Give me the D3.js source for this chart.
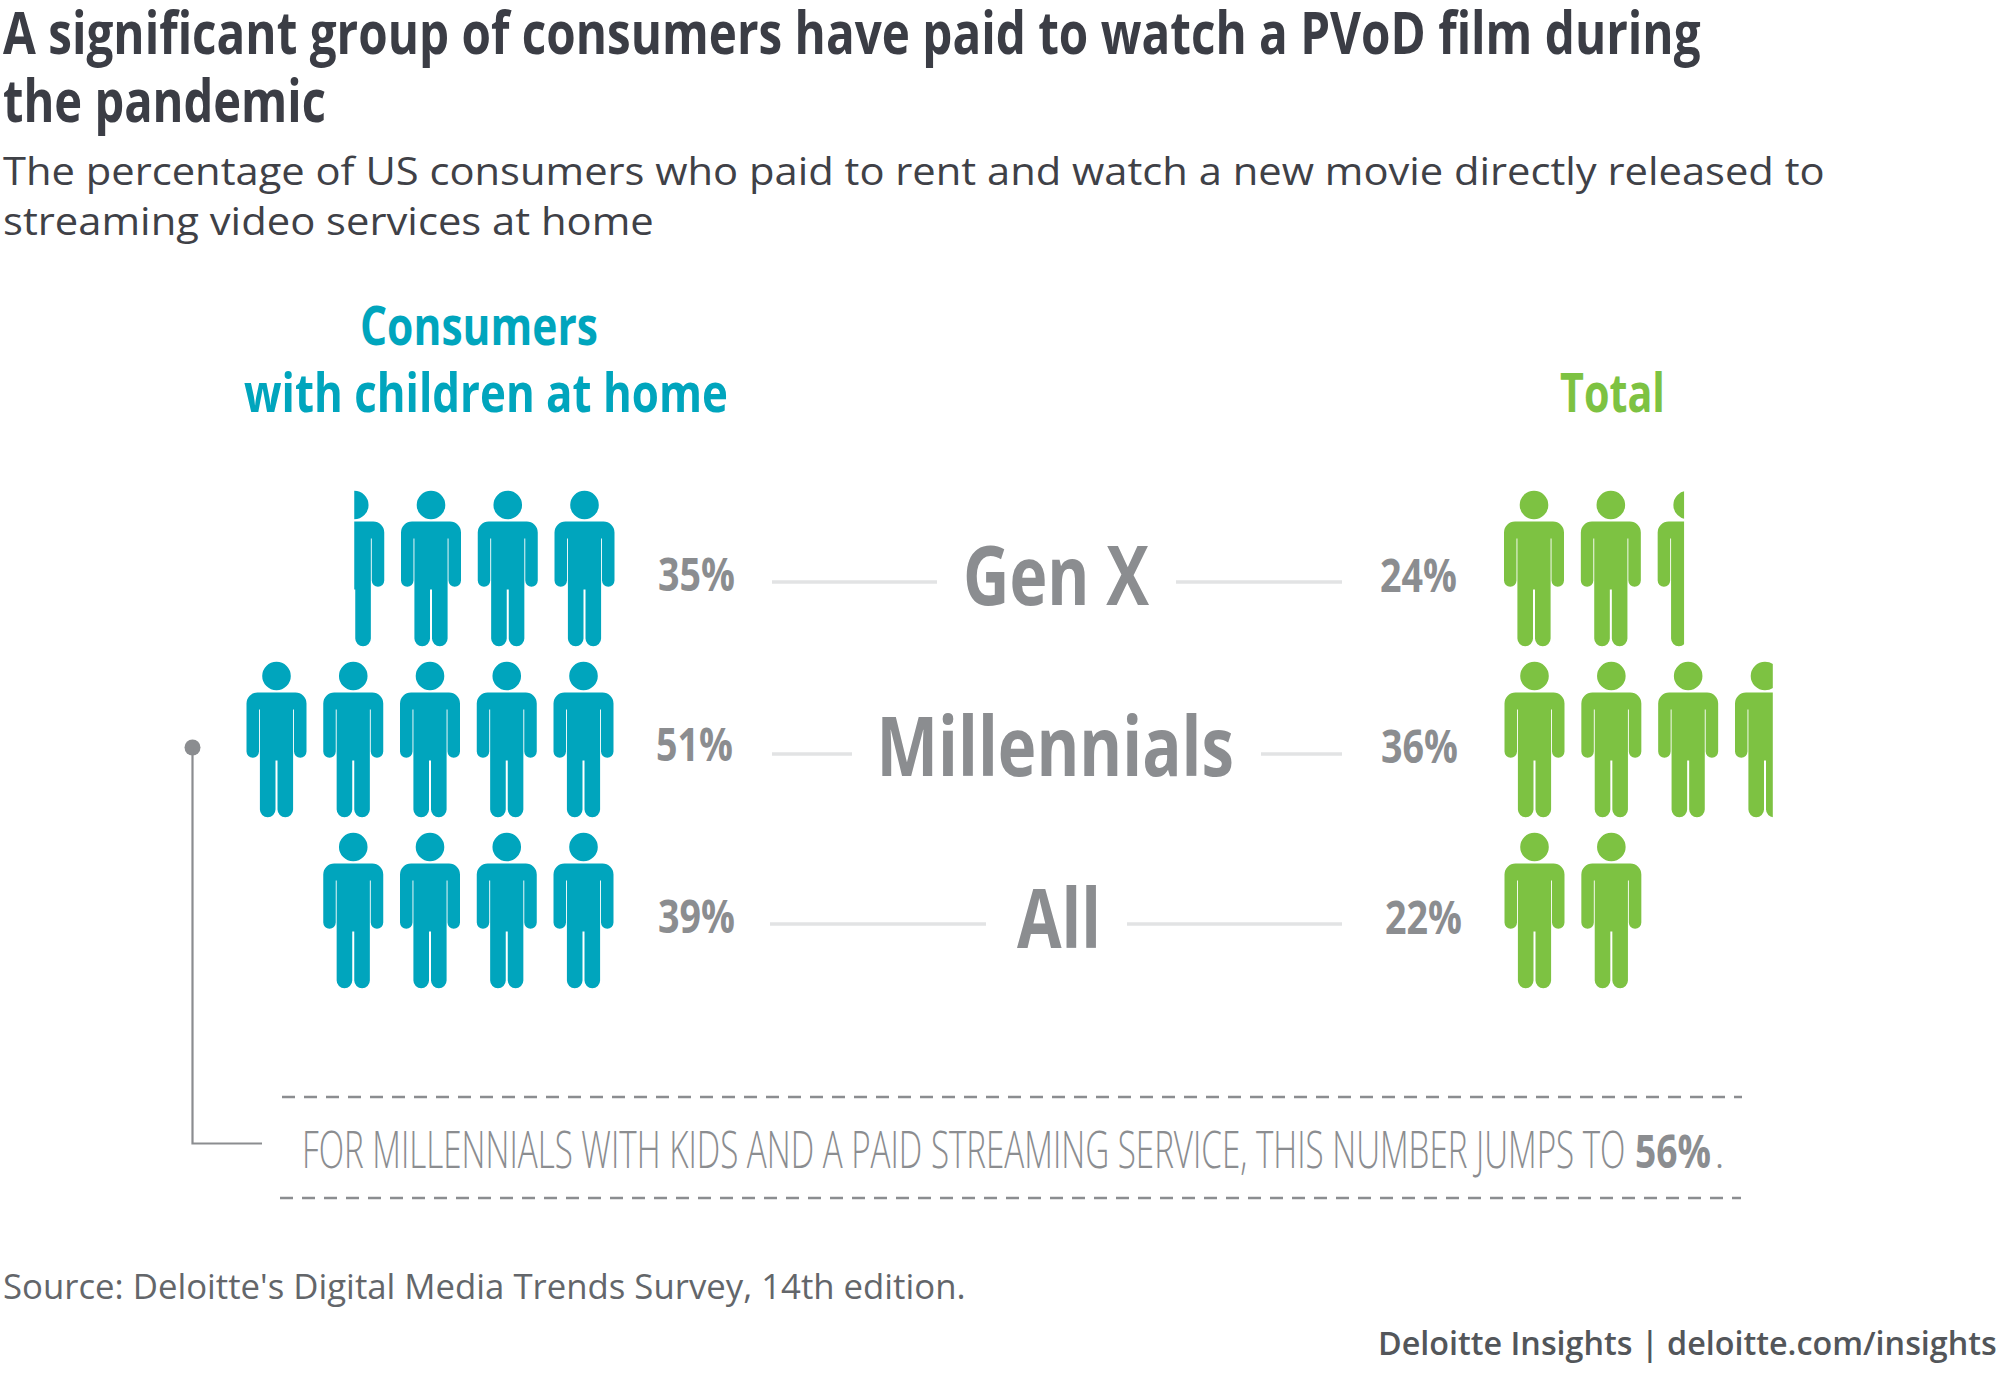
<!DOCTYPE html>
<html><head><meta charset="utf-8">
<script src="https://d3js.org/d3.v7.min.js"></script>
<style>html,body{margin:0;padding:0;background:#fff}svg{display:block}text{font-family:"Open Sans",sans-serif}</style>
</head><body><svg id="c" width="2000" height="1380"></svg>
<script>
const generations = ["Gen X","Millennials","All"];
const childrenPct = [35,51,39];
const totalPct = [24,36,22];
const childrenIcons = [3.5,5,4];
const totalIcons = [2.44,3.63,2];

const TEAL="#00a5bd", GREEN="#7dc242", GREY="#8b8d90";
const svg=d3.select("#c");

function put(str,o){
  const t=svg.append("text")
    .attr("font-size",o.size).attr("font-weight",o.weight||400).attr("fill",o.fill)
    .text(str);
  const k=o.w?o.w/t.node().getComputedTextLength():1;
  t.attr("transform",`translate(${o.x},${o.y}) scale(${k},1)`);
  return t;
}
const DARK="#3b3d45";
put("A significant group of consumers have paid to watch a PVoD film during",{x:3,y:54,size:60,weight:700,fill:DARK,w:1698});
put("the pandemic",{x:3,y:122,size:60,weight:700,fill:DARK,w:323});
put("The percentage of US consumers who paid to rent and watch a new movie directly released to",{x:3,y:185,size:39,fill:"#3f4147",w:1822});
put("streaming video services at home",{x:3,y:235,size:39,fill:"#3f4147",w:651});

put("Consumers",{x:360,y:345,size:54,weight:700,fill:TEAL,w:238});
put("with children at home",{x:244,y:412,size:54,weight:700,fill:TEAL,w:484});
put("Total",{x:1560,y:412,size:54,weight:700,fill:GREEN,w:105});

// person pictogram, local coords: x centred, y from head top
function person(){
  const p=d3.path();
  p.moveTo(14,14.5); p.arc(0,14.5,14.3,0,2*Math.PI); p.closePath();
  p.moveTo(-19,31); p.lineTo(19,31);
  p.arc(19,42,11,-Math.PI/2,0);
  p.lineTo(30,90); p.arc(23.75,90,6.25,0,Math.PI); p.lineTo(17.5,48); p.lineTo(16.6,48);
  p.lineTo(16.6,148); p.arc(8.8,148,7.8,0,Math.PI); p.lineTo(1,99); p.lineTo(-1,99);
  p.lineTo(-1,148); p.arc(-8.8,148,7.8,0,Math.PI); p.lineTo(-16.6,48); p.lineTo(-17.5,48);
  p.lineTo(-17.5,90); p.arc(-23.75,90,6.25,0,Math.PI); p.lineTo(-30,42);
  p.arc(-19,42,11,Math.PI,-Math.PI/2); p.closePath();
  return p.toString();
}
const PW=60, personD=person();
const yRow=d3.scalePoint().domain(generations).range([490.5,832.5]);
const xChild=d3.scaleLinear().domain([0,4]).range([583.5,276.5]);
const xTotal=d3.scaleLinear().domain([0,3]).range([1534.5,1765]);
const defs=svg.append("defs");

function drawSide(name,icons,xs,color,leftClip,rowShift){
  generations.forEach((g,r)=>{
    const v=icons[r], whole=Math.floor(v), frac=v-whole, n=Math.ceil(v);
    const id=`clip-${name}-${r}`;
    const y=yRow(g), dx=rowShift[r];
    let x0=-100,x1=2100;
    if(frac>0){
      const c=xs(n-1)+dx;
      if(leftClip) x0=c+PW/2-PW*frac; else x1=c-PW/2+PW*frac;
    }
    defs.append("clipPath").attr("id",id).append("rect")
      .attr("x",x0).attr("y",y-5).attr("width",x1-x0).attr("height",175);
    svg.append("g").attr("clip-path",`url(#${id})`)
      .selectAll("path").data(d3.range(n)).join("path")
      .attr("d",personD).attr("fill",color)
      .attr("transform",i=>`translate(${xs(i)+dx},${y})`);
  });
}
drawSide("child",childrenIcons,xChild,TEAL,true,[1,0,0]);
drawSide("total",totalIcons,xTotal,GREEN,false,[-0.5,0,0]);

// percent labels
const childLabelPos=[[658,591],[656,761],[658,933]];
const totalLabelPos=[[1380,592],[1381,763],[1385,934]];
childrenPct.forEach((v,i)=>put(v+"%",{x:childLabelPos[i][0],y:childLabelPos[i][1],size:46,weight:700,fill:GREY,w:77}));
totalPct.forEach((v,i)=>put(v+"%",{x:totalLabelPos[i][0],y:totalLabelPos[i][1],size:46,weight:700,fill:GREY,w:77}));

// centre labels and rules
const centreGeom=[
 {x:963,w:186,y:605,ly:582,l:[772,937],r:[1176,1342]},
 {x:876.5,w:357.5,y:776,ly:754,l:[772,852],r:[1261,1342]},
 {x:1017,w:84,y:948,ly:924,l:[770,986],r:[1127,1342]}];
generations.forEach((g,i)=>{
  const c=centreGeom[i];
  put(g,{x:c.x,y:c.y,size:82,weight:700,fill:GREY,w:c.w});
  [c.l,c.r].forEach(s=>svg.append("line").attr("x1",s[0]).attr("x2",s[1]).attr("y1",c.ly).attr("y2",c.ly)
    .attr("stroke","#e2e3e4").attr("stroke-width",3.5));
});

// annotation
svg.append("circle").attr("cx",192.5).attr("cy",747.5).attr("r",8).attr("fill",GREY);
svg.append("path").attr("d","M192.5,747.5V1143.5H262").attr("fill","none").attr("stroke",GREY).attr("stroke-width",2.2);
[[282,1742,1097],[280,1741,1198]].forEach(d=>svg.append("line").attr("x1",d[0]).attr("x2",d[1]).attr("y1",d[2]).attr("y2",d[2])
  .attr("stroke",GREY).attr("stroke-width",2.5).attr("stroke-dasharray","13 9"));
put("FOR MILLENNIALS WITH KIDS AND A PAID STREAMING SERVICE, THIS NUMBER JUMPS TO",{x:302,y:1168,size:51,weight:300,fill:GREY,w:1324});
put("56%",{x:1635,y:1168,size:46,weight:700,fill:GREY,w:76});
put(".",{x:1714,y:1168,size:46,weight:300,fill:GREY});

put("Source: Deloitte's Digital Media Trends Survey, 14th edition.",{x:3,y:1299,size:34,fill:"#63666a",w:963});
put("Deloitte Insights | deloitte.com/insights",{x:1378,y:1355,size:33,weight:600,fill:"#53565a",w:619});
</script></body></html>
